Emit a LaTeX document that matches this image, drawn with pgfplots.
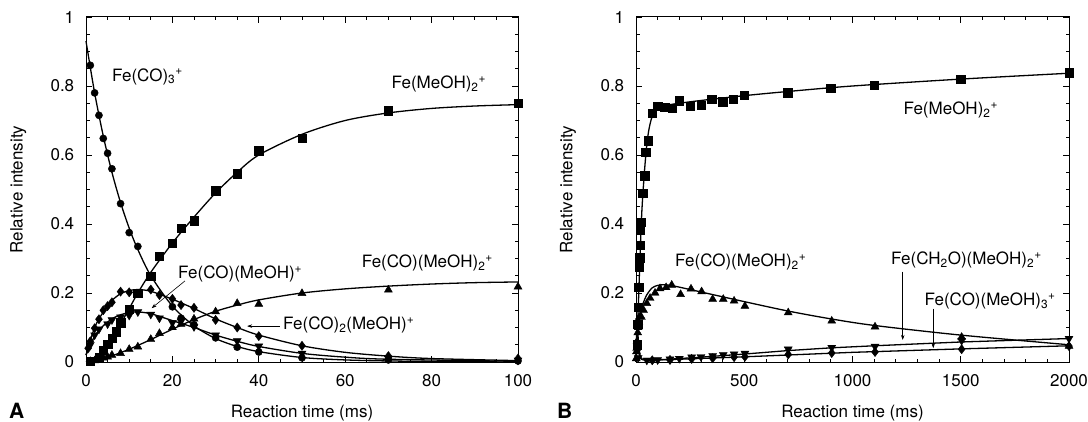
\documentclass[border=0pt]{standalone}
\usepackage{pgfplots}
\pgfplotsset{compat=1.18}
\usepackage{fontspec}
\setmainfont{TeX Gyre Heros}
\usetikzlibrary{arrows.meta}

\pgfplotsset{
  panel/.style={
    scale only axis, height=345bp,
    ymin=0, ymax=1, ytick={0,0.2,0.4,0.6,0.8,1},
    minor y tick num=3,
    tick align=inside, major tick length=6bp, minor tick length=3.5bp,
    axis line style={line width=1bp},
    every tick/.style={black, line width=0.8bp},
    /pgf/number format/assume math mode=true,
    /pgf/number format/1000 sep={},
    scaled ticks=false,
    xticklabel shift=9.3bp, yticklabel shift=8.3bp,
    xlabel={Reaction time (ms)}, ylabel={Relative intensity},
    every axis x label/.style={at={(axis description cs:0.5,-0.148)}, anchor=center},
    every axis y label/.style={at={(axis description cs:-0.157,0.5)}, rotate=90, anchor=center},
    clip=false,
  },
  crv/.style={black, line width=1.3bp, smooth, no markers},
  mk/.style={only marks, black},
}
\tikzset{lab/.style={anchor=west, inner sep=0pt},
  arr/.style={line width=0.6bp, -{Stealth[length=5bp,width=3.5bp]}}}

\begin{document}
\begin{tikzpicture}[font=\fontsize{17bp}{20bp}\selectfont]
\path[use as bounding box] (0,0) rectangle (1088bp,422bp);

% ---------------- Panel A ----------------
\begin{axis}[panel, at={(86bp,60bp)}, anchor=south west, width=432bp,
  xmin=0, xmax=100, xtick={0,20,40,60,80,100}, minor x tick num=3]
% curves
\addplot[crv] coordinates {(0,0.93) (2,0.78) (4,0.655) (6,0.55) (8,0.462) (10,0.388) (12,0.326) (15,0.25) (20,0.162) (25,0.105) (30,0.068) (35,0.045) (40,0.03) (50,0.013) (60,0.006) (70,0.003) (85,0.001) (100,0)};
\addplot[crv] coordinates {(0,0) (2,0.008) (4,0.035) (6,0.07) (8,0.11) (10,0.155) (12,0.2) (15,0.26) (20,0.345) (25,0.42) (30,0.49) (35,0.55) (40,0.6) (50,0.66) (60,0.7) (70,0.722) (80,0.735) (90,0.742) (100,0.746)};
\addplot[crv] coordinates {(0,0.02) (2,0.1) (4,0.145) (6,0.178) (8,0.198) (10,0.207) (12,0.21) (15,0.205) (20,0.182) (25,0.155) (30,0.125) (35,0.1) (40,0.078) (50,0.047) (60,0.028) (70,0.017) (80,0.01) (100,0.004)};
\addplot[crv] coordinates {(0,0.02) (2,0.075) (4,0.105) (6,0.125) (8,0.137) (10,0.143) (12,0.145) (15,0.14) (20,0.12) (25,0.1) (30,0.078) (35,0.06) (40,0.045) (50,0.025) (60,0.014) (70,0.008) (100,0.002)};
\addplot[crv] coordinates {(0,0) (2,0.003) (4,0.01) (6,0.018) (8,0.027) (10,0.037) (12,0.048) (15,0.065) (20,0.095) (25,0.123) (30,0.147) (35,0.165) (40,0.18) (50,0.2) (60,0.212) (70,0.22) (80,0.226) (90,0.23) (100,0.232)};
% markers
\addplot[mk, mark=*, mark size=3.6bp] coordinates {(1,0.86) (2,0.78) (3,0.715) (4,0.648) (5,0.605) (6,0.56) (8,0.459) (10,0.375) (12,0.335) (15,0.249) (20,0.16) (22,0.127) (25,0.108) (30,0.07) (35,0.043) (40,0.029) (50,0.012) (70,0.006) (100,0.003)};
\addplot[mk, mark=square*, mark size=4.2bp] coordinates {(1,0.003) (3,0.014) (4,0.035) (5,0.052) (6,0.069) (7,0.088) (8,0.114) (10,0.153) (12,0.199) (15,0.249) (17,0.307) (20,0.344) (22,0.387) (25,0.41) (30,0.496) (35,0.546) (40,0.613) (50,0.648) (70,0.728) (100,0.75)};
\addplot[mk, mark=diamond*, mark size=4.6bp] coordinates {(0.5,0.04) (1,0.06) (2,0.098) (3,0.124) (4,0.15) (5,0.162) (6,0.173) (8,0.204) (10,0.202) (15,0.21) (17,0.194) (20,0.183) (22,0.165) (25,0.157) (30,0.122) (35,0.1) (40,0.075) (50,0.047) (70,0.017) (100,0.01)};
\addplot[mk, mark=triangle*, mark size=4.6bp, mark options={rotate=180}] coordinates {(1,0.05) (2,0.078) (3,0.095) (5,0.11) (6,0.122) (8,0.13) (10,0.135) (12,0.145) (15,0.138) (17,0.127) (20,0.114) (22,0.118) (25,0.102) (30,0.078) (35,0.061) (40,0.046) (50,0.025) (70,0.01) (100,0.005)};
\addplot[mk, mark=triangle*, mark size=4.6bp] coordinates {(1,0.002) (2,0.004) (3,0.007) (4,0.012) (5,0.015) (6,0.02) (8,0.025) (10,0.037) (12,0.044) (15,0.066) (17,0.083) (20,0.1) (22,0.11) (25,0.125) (30,0.146) (35,0.17) (40,0.168) (50,0.199) (70,0.209) (100,0.218)};
% labels
\node[lab] at (axis cs:6,0.827) {Fe(CO)\textsubscript{3}\textsuperscript{+}};
\node[lab] at (axis cs:70.7,0.805) {Fe(MeOH)\textsubscript{2}\textsuperscript{+}};
\node[lab] at (axis cs:63.8,0.287) {Fe(CO)(MeOH)\textsubscript{2}\textsuperscript{+}};
\node[lab] at (axis cs:21.3,0.255) {Fe(CO)(MeOH)\textsuperscript{+}};
\draw[arr] (axis cs:22.9,0.235) -- (axis cs:15.2,0.156);
\node[lab] at (axis cs:45.6,0.106) {Fe(CO)\textsubscript{2}(MeOH)\textsuperscript{+}};
\draw[arr] (axis cs:44.9,0.104) -- (axis cs:37.3,0.104);
\end{axis}
\node[font=\bfseries\fontsize{21bp}{24bp}\selectfont, anchor=base west, inner sep=0pt] at (9bp,4bp) {A};

% ---------------- Panel B ----------------
\begin{axis}[panel, at={(636bp,60bp)}, anchor=south west, width=433bp,
  xmin=0, xmax=2000, xtick={0,500,1000,1500,2000}, minor x tick num=4]
\addplot[crv] coordinates {(0,0) (5,0.07) (10,0.15) (15,0.24) (20,0.33) (25,0.41) (30,0.47) (40,0.56) (50,0.63) (60,0.675) (75,0.712) (100,0.735) (150,0.745) (200,0.75) (300,0.758) (500,0.772) (700,0.784) (1000,0.8) (1500,0.82) (2000,0.837)};
\addplot[crv] coordinates {(0,0) (5,0.06) (10,0.1) (20,0.14) (30,0.165) (50,0.195) (75,0.215) (100,0.222) (130,0.224) (160,0.222) (200,0.217) (300,0.203) (400,0.189) (500,0.175) (700,0.148) (900,0.125) (1100,0.106) (1500,0.078) (2000,0.05)};
\addplot[black, line width=1.3bp, no markers] coordinates {(0,0) (3,0.09) (6,0.1) (10,0.07) (15,0.035) (20,0.015) (30,0.007) (60,0.005) (100,0.006) (200,0.01) (300,0.014) (500,0.023) (700,0.033) (900,0.041) (1100,0.047) (1500,0.058) (2000,0.068)};
\addplot[black, line width=1.3bp, no markers] coordinates {(0,0) (3,0.06) (8,0.05) (15,0.02) (25,0.008) (50,0.005) (100,0.006) (200,0.008) (500,0.015) (1000,0.028) (1500,0.038) (2000,0.047)};
\addplot[mk, mark=square*, mark size=4.2bp] coordinates {(5,0.05) (8,0.11) (10,0.158) (13,0.216) (15,0.276) (17,0.302) (18,0.339) (20,0.383) (22,0.405) (30,0.489) (40,0.54) (45,0.608) (55,0.641) (75,0.721) (100,0.742) (133,0.738) (166,0.735) (200,0.757) (250,0.742) (300,0.744) (350,0.762) (400,0.755) (450,0.761) (500,0.774) (700,0.781) (900,0.793) (1100,0.803) (1500,0.819) (2000,0.839)};
\addplot[mk, mark=triangle*, mark size=4.6bp] coordinates {(1,0.01) (2,0.03) (3,0.04) (5,0.06) (8,0.085) (10,0.1) (13,0.115) (15,0.13) (25,0.13) (35,0.15) (50,0.17) (65,0.185) (88,0.2) (111,0.213) (139,0.216) (165,0.223) (206,0.196) (254,0.212) (303,0.204) (354,0.182) (403,0.182) (453,0.177) (503,0.162) (703,0.143) (904,0.119) (1104,0.102) (1504,0.072) (2000,0.046)};
\addplot[mk, mark=triangle*, mark size=4.6bp, mark options={rotate=180}] coordinates {(10,0.012) (50,0.005) (100,0.006) (157,0.008) (200,0.01) (257,0.014) (300,0.015) (354,0.018) (403,0.021) (453,0.023) (503,0.025) (703,0.037) (904,0.042) (1104,0.045) (1504,0.062) (2000,0.068)};
\addplot[mk, mark=diamond*, mark size=4.6bp] coordinates {(5,0.04) (75,0.005) (157,0.006) (257,0.009) (354,0.011) (453,0.014) (503,0.015) (703,0.022) (904,0.026) (1104,0.029) (1504,0.037) (2000,0.046)};
\node[lab] at (axis cs:1235,0.73) {Fe(MeOH)\textsubscript{2}\textsuperscript{+}};
\node[lab] at (axis cs:180,0.29) {Fe(CO)(MeOH)\textsubscript{2}\textsuperscript{+}};
\node[lab] at (axis cs:1178,0.296) {Fe(CH\textsubscript{2}O)(MeOH)\textsubscript{2}\textsuperscript{+}};
\draw[arr] (axis cs:1232,0.262) -- (axis cs:1232,0.064);
\node[lab] at (axis cs:1332,0.177) {Fe(CO)(MeOH)\textsubscript{3}\textsuperscript{+}};
\draw[arr] (axis cs:1373,0.155) -- (axis cs:1373,0.04);
\end{axis}
\node[font=\bfseries\fontsize{21bp}{24bp}\selectfont, anchor=base west, inner sep=0pt] at (557bp,4bp) {B};
\end{tikzpicture}
\end{document}
